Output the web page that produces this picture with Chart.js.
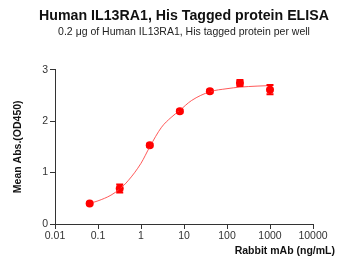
<!DOCTYPE html>
<html lang="en">
<head>
    <meta charset="UTF-8">
    <title>Human IL13RA1 ELISA</title>
    <script src="https://cdn.jsdelivr.net/npm/chart.js@4.4.0/dist/chart.umd.min.js"></script>
    <style>
        body { margin: 0; background: white; }
        #wrap { width: 350px; height: 269px; }
    </style>
</head>
<body>
    <div id="wrap"><canvas id="elisa" width="350" height="269"></canvas></div>

    <script>
        // measured points (ng/mL, OD450, SD)
        const conc = [0.064, 0.32, 1.6, 8, 40, 200, 1000];
        const meanAbs = [0.40, 0.69, 1.53, 2.19, 2.58, 2.74, 2.61];
        const sdAbs = [0.02, 0.08, 0.03, 0.03, 0.03, 0.06, 0.09];

        // fitted curve
        const curveX = [0.064, 0.1, 0.2, 0.32, 0.5, 1, 1.6, 3, 5, 8, 15, 40, 100, 200, 500, 1000];
        const curveY = [0.40, 0.45, 0.56, 0.68, 0.84, 1.18, 1.50, 1.88, 2.07, 2.21, 2.40, 2.57, 2.63, 2.66, 2.68, 2.69];

        const xTicks = [0.01, 0.1, 1, 10, 100, 1000, 10000];
        const yTicks = [0, 1, 2, 3];

        const red = "#ff0000";

        const errorBars = {
            id: "errorBars",
            afterDatasetsDraw(chart) {
                const ctx = chart.ctx;
                const xs = chart.scales.x, ys = chart.scales.y;
                ctx.save();
                ctx.strokeStyle = red;
                ctx.lineWidth = 2;
                conc.forEach((c, i) => {
                    const px = xs.getPixelForValue(c);
                    const top = ys.getPixelForValue(meanAbs[i] + sdAbs[i]);
                    const bot = ys.getPixelForValue(meanAbs[i] - sdAbs[i]);
                    ctx.beginPath();
                    ctx.moveTo(px, top); ctx.lineTo(px, bot);
                    ctx.moveTo(px - 3.5, top); ctx.lineTo(px + 3.5, top);
                    ctx.moveTo(px - 3.5, bot); ctx.lineTo(px + 3.5, bot);
                    ctx.stroke();
                });
                ctx.restore();
            }
        };

        const xTitle = {
            id: "xTitle",
            afterDraw(chart) {
                const ctx = chart.ctx;
                ctx.save();
                ctx.font = "bold 10.5px 'Liberation Sans', Arial, sans-serif";
                ctx.fillStyle = "#111";
                ctx.textAlign = "right";
                ctx.textBaseline = "middle";
                ctx.fillText("Rabbit mAb (ng/mL)", chart.chartArea.right + 22, chart.height - 18);
                ctx.restore();
            }
        };

        Chart.defaults.font.family = "'Liberation Sans', Arial, sans-serif";
        Chart.defaults.color = "#222";

        new Chart(document.getElementById("elisa"), {
            type: "scatter",
            data: {
                datasets: [{
                    label: "fit",
                    data: curveX.map((x, i) => ({x: x, y: curveY[i]})),
                    showLine: true,
                    borderColor: "rgba(255,60,60,0.85)",
                    borderWidth: 1,
                    pointRadius: 0,
                    cubicInterpolationMode: "monotone"
                }, {
                    label: "Mean",
                    data: conc.map((x, i) => ({x: x, y: meanAbs[i]})),
                    showLine: false,
                    pointRadius: 4,
                    backgroundColor: red,
                    borderColor: red,
                    borderWidth: 0
                }]
            },
            plugins: [errorBars, xTitle],
            options: {
                animation: false,
                responsive: false,
                layout: { padding: { left: 18, right: 0, top: 0, bottom: 0 } },
                plugins: {
                    legend: { display: false },
                    tooltip: { enabled: false },
                    title: {
                        display: true,
                        text: "Human IL13RA1, His Tagged protein ELISA",
                        color: "#111",
                        font: { size: 14.2, weight: "bold" },
                        padding: { top: 8, bottom: 0 }
                    },
                    subtitle: {
                        display: true,
                        text: "0.2 \u03bcg of Human IL13RA1, His tagged protein per well",
                        color: "#222",
                        font: { size: 10.5 },
                        padding: { top: 1, bottom: 31 }
                    }
                },
                scales: {
                    x: {
                        type: "logarithmic",
                        min: 0.01,
                        max: 10000,
                        afterBuildTicks: s => { s.ticks = xTicks.map(v => ({value: v})); },
                        afterFit: s => { s.height = 45; },
                        ticks: {
                            autoSkip: false,
                            maxRotation: 0,
                            padding: 1,
                            color: "#333",
                            font: { size: 10.5 },
                            callback: v => String(v)
                        },
                        grid: { drawOnChartArea: false, tickLength: 5, color: "#333" },
                        border: { color: "#333" }
                    },
                    y: {
                        min: 0,
                        max: 3,
                        afterBuildTicks: s => { s.ticks = yTicks.map(v => ({value: v})); },
                        afterFit: s => { s.width = 37; },
                        ticks: { padding: 2, color: "#333", font: { size: 10.5 } },
                        grid: { drawOnChartArea: false, tickLength: 5, color: "#333" },
                        border: { color: "#333" },
                        title: {
                            display: true,
                            text: "Mean Abs.(OD450)",
                            color: "#111",
                            font: { size: 10.5, weight: "bold" },
                            padding: { top: -6, bottom: 0 }
                        }
                    },
                    // empty right-hand strip so the plot stops where the reference does
                    spacer: {
                        position: "right",
                        display: true,
                        afterFit: s => { s.width = 37; },
                        ticks: { display: false },
                        grid: { display: false },
                        border: { display: false }
                    }
                }
            }
        });
    </script>
</body>
</html>
